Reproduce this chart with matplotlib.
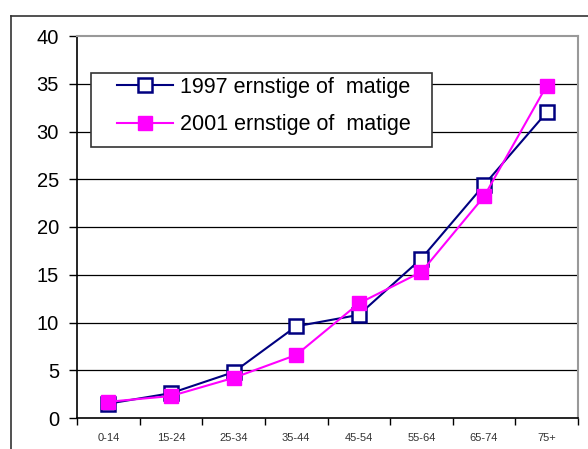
import matplotlib
matplotlib.use('Agg')
import matplotlib.pyplot as plt
from matplotlib.lines import Line2D
from matplotlib.patches import Rectangle

plt.rcParams['font.family'] = ['Liberation Sans', 'DejaVu Sans']

# Gegevens
leeftijden = ['0-14', '15-24', '25-34', '35-44', '45-54', '55-64', '65-74', '75+']
waarden_1997 = [1.5, 2.6, 4.8, 9.6, 10.8, 16.7, 24.4, 32.0]
waarden_2001 = [1.7, 2.3, 4.2, 6.6, 12.0, 15.3, 23.2, 34.8]
label_1997 = '1997 ernstige of  matige'
label_2001 = '2001 ernstige of  matige'
y_ticks = [0, 5, 10, 15, 20, 25, 30, 35, 40]

W, H = 588, 449
fig = plt.figure(figsize=(W / 100, H / 100), dpi=100)
ax = fig.add_axes([77 / W, 1 - 418 / H, (578 - 77) / W, (418 - 36) / H])

# Buitenkader
fig.add_artist(Line2D([11 / W, 1], [1 - 16 / H, 1 - 16 / H], color='#333333', lw=1.2))
fig.add_artist(Line2D([11 / W, 11 / W], [0, 1 - 16 / H], color='#333333', lw=1.2))

x = list(range(len(leeftijden)))

# Rasterlijnen
for y in y_ticks[1:-1]:
    ax.axhline(y, color='black', lw=0.9, zorder=1)

ax.plot(x, waarden_1997, color='#000080', lw=1.5, marker='s', markersize=10,
        markerfacecolor='white', markeredgecolor='#000080', markeredgewidth=1.8,
        label=label_1997, zorder=3)
ax.plot(x, waarden_2001, color='#FF00FF', lw=1.5, marker='s', markersize=10,
        markerfacecolor='#FF00FF', markeredgecolor='#FF00FF',
        label=label_2001, zorder=4)

ax.set_xlim(-0.5, len(leeftijden) - 0.5)
ax.set_ylim(0, 40)
ax.set_yticks(y_ticks)
ax.set_xticks([i - 0.5 for i in range(len(leeftijden) + 1)])
ax.set_xticklabels([])
ax.set_xticks(x, minor=True)
ax.set_xticklabels(leeftijden, minor=True)
ax.tick_params(axis='x', which='major', direction='out', length=5, width=1, color='black')
ax.tick_params(axis='x', which='minor', length=0, pad=11, labelsize=8, labelcolor='#333333')
ax.tick_params(axis='y', direction='out', length=6, width=1, pad=7, labelsize=14.5)

for s in ['left', 'bottom']:
    ax.spines[s].set_color('black')
    ax.spines[s].set_linewidth(1.2)
for s in ['top', 'right']:
    ax.spines[s].set_color('#999999')
    ax.spines[s].set_linewidth(1.5)

# Legendakader apart getekend
fig.add_artist(Rectangle((91 / W, 1 - 147 / H), (432 - 91) / W, (147 - 73) / H,
                         transform=fig.transFigure, facecolor='white',
                         edgecolor='#333333', lw=1.2, zorder=5))
leg = ax.legend(loc='center left', bbox_to_anchor=(117 / W, 1 - 106 / H),
                bbox_transform=fig.transFigure, fontsize=15.5, frameon=False,
                handlelength=2.6, handletextpad=0.33, borderpad=0,
                labelspacing=0.75, borderaxespad=0)
leg.set_zorder(6)
fig.add_artist(leg)

fig.savefig('out.png', dpi=100)
